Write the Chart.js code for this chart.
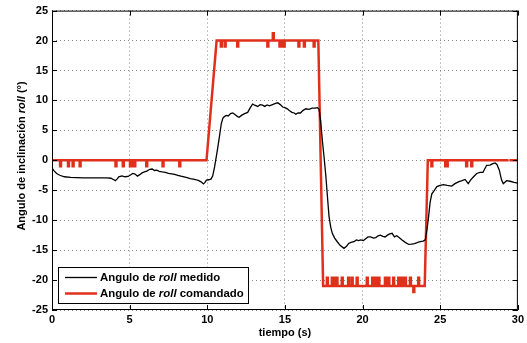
<!DOCTYPE html>
<html>
<head>
<meta charset="utf-8">
<script src="https://cdn.jsdelivr.net/npm/chart.js@4"></script>
<style>
    html, body { margin: 0; padding: 0; background: #fff; }
    canvas { display: block; }
</style>
</head>
<body>
<canvas id="rollChart" width="527" height="343"></canvas>
<script>
// ===========================
// DATOS
// ===========================

// Angulo de roll medido (tiempo en s, grados)
const measT = [
    0, 0.15, 0.3, 0.5, 0.8, 1.2, 1.6, 2.0, 2.5, 3.0, 3.5, 3.8, 3.95, 4.08, 4.2, 4.3, 4.5, 4.7, 4.9,
    5.05, 5.2, 5.35, 5.5, 5.65, 5.8, 5.95, 6.1, 6.3, 6.45, 6.6, 6.75, 6.9, 7.1, 7.3, 7.5, 7.7, 7.9,
    8.1, 8.3, 8.5, 8.7, 8.9, 9.1, 9.3, 9.45, 9.6, 9.75, 9.85, 9.95, 10.1, 10.25, 10.35, 10.47, 10.58,
    10.68, 10.8, 10.9, 11.0, 11.1, 11.22, 11.35, 11.5, 11.64, 11.8, 11.95, 12.05, 12.2, 12.4, 12.6,
    12.75, 12.92, 13.05, 13.25, 13.4, 13.56, 13.7, 13.85, 14.0, 14.2, 14.4, 14.53, 14.7, 14.85, 15.0,
    15.15, 15.28, 15.45, 15.6, 15.7, 15.85, 16.0, 16.15, 16.35, 16.55, 16.75, 16.95, 17.09, 17.2,
    17.3, 17.41, 17.52, 17.63, 17.75, 17.84, 17.95, 18.05, 18.2, 18.37, 18.55, 18.8, 18.95, 19.1,
    19.25, 19.44, 19.6, 19.75, 19.87, 20.05, 20.2, 20.35, 20.51, 20.7, 20.85, 21.0, 21.15, 21.3,
    21.45, 21.6, 21.75, 21.9, 22.05, 22.2, 22.35, 22.54, 22.75, 22.97, 23.15, 23.35, 23.55, 23.72,
    23.9, 24.04, 24.15, 24.25, 24.35, 24.46, 24.6, 24.78, 25.0, 25.21, 25.45, 25.74, 25.95, 26.17,
    26.4, 26.6, 26.8, 26.95, 27.13, 27.35, 27.55, 27.75, 27.99, 28.2, 28.35, 28.53, 28.65, 28.8,
    28.95, 29.06, 29.27, 29.5, 29.75, 30
];
const measV = [
    -1.3, -1.8, -2.2, -2.5, -2.75, -2.85, -2.9, -2.95, -2.95, -2.95, -2.95, -3.0, -3.2, -3.4, -3.1, -2.75, -2.6, -2.75, -2.7,
    -2.45, -2.2, -2.3, -2.65, -2.4, -2.1, -1.95, -1.8, -1.5, -1.45, -1.7, -1.65, -1.85, -1.95, -2.0, -2.2, -2.25, -2.35,
    -2.5, -2.65, -2.75, -2.9, -3.05, -3.15, -3.25, -3.4, -3.6, -3.95, -3.7, -3.3, -3.25, -3.1, -2.6, -1.1, 0.6,
    2.2, 4.3, 6.1, 7.0, 7.3, 7.5, 7.4, 7.8, 7.9, 7.6, 7.3, 7.2, 7.5, 7.8, 8.0,
    8.7, 9.4, 9.2, 9.0, 9.3, 9.2, 9.0, 9.25, 9.1, 9.3, 9.5, 9.6, 9.3, 8.9, 8.8,
    8.6, 8.3, 8.0, 7.9, 7.7, 7.9, 7.9, 8.3, 8.6, 8.5, 8.7, 8.7, 8.8, 8.5,
    6.5, 3.3, 0.5, -2.5, -6.5, -9.4, -11.2, -12.2, -13.0, -13.6, -14.2, -14.7, -14.4, -13.9,
    -13.7, -13.6, -13.3, -13.4, -13.3, -13.4, -13.1, -12.8, -12.8, -13.0, -12.9, -12.6, -12.5, -12.7,
    -12.8, -12.5, -12.3, -12.2, -12.8, -12.6, -12.9, -13.3, -13.7, -14.05, -14.0, -13.9, -13.7, -13.6,
    -13.5, -13.3, -11.5, -9.4, -7.0, -5.6, -5.1, -4.4, -4.2, -4.06, -4.2, -4.3, -3.9, -3.6,
    -3.4, -3.2, -3.9, -3.3, -2.8, -2.2, -2.0, -2.0, -0.83, -0.8, -0.6, -0.44, -0.7, -1.6,
    -3.3, -3.9, -3.4, -3.5, -3.7, -3.8
];

// Angulo de roll comandado: escalones
const cmdT = [0, 9.95, 10.6, 17.15, 17.46, 24.0, 24.2, 30];
const cmdV = [0, 0, 20, 20, -21, -21, 0, 0];

// Picos del comando (instante, valor del pico)
const spikeT = [
    0.55, 1.06, 1.36, 1.81, 4.12, 4.59, 5.05, 5.15, 5.25, 5.33, 6.1, 7.15, 8.23,
    10.9, 11.15, 11.96, 13.9, 14.25, 14.68, 14.78, 14.88, 14.95, 15.9, 16.25, 16.88,
    17.73, 18.05, 18.15, 18.25, 18.35, 18.69, 19.1, 19.33, 19.65, 20.3, 20.65, 20.75, 20.85,
    21.05, 21.47, 21.69, 22.0, 22.33, 22.55, 22.65, 22.76, 23.08, 23.3, 23.61,
    24.46, 25.35, 25.45, 26.7, 27.03, 29.42
];
const spikeV = [
    -1, -1, -1, -1, -1, -1, -1, -1, -1, -1, -1, -1, -1,
    19, 19, 19, 19, 21.2, 19, 19, 19, 19, 19, 19, 19,
    -19.6, -19.6, -19.6, -19.6, -19.6, -19.6, -19.6, -19.6, -19.6, -19.6, -19.6, -19.6, -19.6,
    -19.6, -19.6, -19.6, -19.6, -19.6, -19.6, -19.6, -19.6, -19.6, -22, -19.6,
    -1, -1, -1, -1, -1
];

const xTicks = [0, 5, 10, 15, 20, 25, 30];
const yTicks = [-25, -20, -15, -10, -5, 0, 5, 10, 15, 20, 25];

// ===========================
// CONSTRUCCIÓN DE SERIES
// ===========================
function baseAt(t) {
    for (let i = 0; i < cmdT.length - 1; i++) {
        if (t >= cmdT[i] && t <= cmdT[i + 1]) {
            const f = (t - cmdT[i]) / (cmdT[i + 1] - cmdT[i]);
            return cmdV[i] + f * (cmdV[i + 1] - cmdV[i]);
        }
    }
    return cmdV[cmdV.length - 1];
}

const measPoints = measT.map((t, i) => ({ x: t, y: measV[i] }));

const halfW = 0.03;
let cmdPoints = cmdT.map((t, i) => ({ x: t, y: cmdV[i] }));
spikeT.forEach((t, i) => {
    const b = baseAt(t);
    cmdPoints.push({ x: t - halfW, y: b }, { x: t - halfW, y: spikeV[i] },
                   { x: t + halfW, y: spikeV[i] }, { x: t + halfW, y: b });
});
cmdPoints.sort((a, b) => a.x - b.x);

const RED = '#e0301c';
const FONT = '"Liberation Sans", Arial, Helvetica, sans-serif';

// ===========================
// PLUGIN: CAJA, MARCAS, TÍTULOS Y LEYENDA
// ===========================
function drawMixed(ctx, parts, x, y, size) {
    let cx = x;
    parts.forEach(([txt, italic]) => {
        ctx.font = (italic ? 'italic ' : '') + 'bold ' + size + 'px ' + FONT;
        ctx.fillText(txt, cx, y);
        cx += ctx.measureText(txt).width;
    });
}
function mixedWidth(ctx, parts, size) {
    let w = 0;
    parts.forEach(([txt, italic]) => {
        ctx.font = (italic ? 'italic ' : '') + 'bold ' + size + 'px ' + FONT;
        w += ctx.measureText(txt).width;
    });
    return w;
}

const framePlugin = {
    id: 'frame',
    afterDraw(chart) {
        const ctx = chart.ctx;
        const a = chart.chartArea;
        const sx = chart.scales.x;
        const sy = chart.scales.y;
        ctx.save();
        ctx.strokeStyle = '#000';
        ctx.lineWidth = 1;
        ctx.setLineDash([]);
        ctx.strokeRect(a.left + 0.5, a.top + 0.5, a.width - 1, a.height - 1);

        // marcas hacia dentro
        ctx.beginPath();
        xTicks.forEach(v => {
            const px = Math.round(sx.getPixelForValue(v)) + 0.5;
            ctx.moveTo(px, a.bottom); ctx.lineTo(px, a.bottom - 5);
            ctx.moveTo(px, a.top); ctx.lineTo(px, a.top + 5);
        });
        yTicks.forEach(v => {
            const py = Math.round(sy.getPixelForValue(v)) + 0.5;
            ctx.moveTo(a.left, py); ctx.lineTo(a.left + 5, py);
            ctx.moveTo(a.right, py); ctx.lineTo(a.right - 5, py);
        });
        ctx.stroke();

        ctx.fillStyle = '#000';
        ctx.textBaseline = 'middle';

        // título eje x
        ctx.font = 'bold 11px ' + FONT;
        ctx.textAlign = 'center';
        ctx.fillText('tiempo (s)', (a.left + a.right) / 2, 333);

        // título eje y
        ctx.textAlign = 'left';
        const yParts = [['Angulo de inclinación ', false], ['roll', true], [' (°)', false]];
        ctx.save();
        ctx.translate(22, 156);
        ctx.rotate(-Math.PI / 2);
        drawMixed(ctx, yParts, -mixedWidth(ctx, yParts, 11) / 2, 0, 11);
        ctx.restore();

        // leyenda
        ctx.fillStyle = '#fff';
        ctx.fillRect(58.5, 267.5, 190, 36);
        ctx.strokeStyle = '#000';
        ctx.lineWidth = 1;
        ctx.strokeRect(58.5, 267.5, 190, 36);

        ctx.beginPath();
        ctx.strokeStyle = '#000';
        ctx.lineWidth = 1.3;
        ctx.moveTo(65, 277.5); ctx.lineTo(97, 277.5);
        ctx.stroke();
        ctx.beginPath();
        ctx.strokeStyle = RED;
        ctx.lineWidth = 2.5;
        ctx.moveTo(65, 293.5); ctx.lineTo(97, 293.5);
        ctx.stroke();

        ctx.fillStyle = '#000';
        drawMixed(ctx, [['Angulo de ', false], ['roll', true], [' medido', false]], 100, 278, 11.4);
        drawMixed(ctx, [['Angulo de ', false], ['roll', true], [' comandado', false]], 100, 294, 11.4);
        ctx.restore();
    }
};

// ===========================
// GRÁFICO
// ===========================
const ctx = document.getElementById('rollChart');

new Chart(ctx, {
    type: 'line',
    data: {
        datasets: [{
            label: 'Angulo de roll medido',
            data: measPoints,
            borderColor: '#000',
            borderWidth: 1.3,
            pointRadius: 0,
            tension: 0
        }, {
            label: 'Angulo de roll comandado',
            data: cmdPoints,
            borderColor: RED,
            borderWidth: 2.5,
            pointRadius: 0,
            tension: 0
        }]
    },
    options: {
        responsive: false,
        animation: false,
        devicePixelRatio: 1,
        layout: {
            padding: { top: 10, right: 7, left: 0, bottom: 0 }
        },
        plugins: {
            legend: { display: false },
            tooltip: { enabled: false }
        },
        scales: {
            x: {
                type: 'linear',
                min: 0,
                max: 30,
                afterFit: s => { s.height = 33; },
                afterBuildTicks: s => { s.ticks = xTicks.map(v => ({ value: v })); },
                ticks: {
                    color: '#000',
                    padding: 3,
                    maxRotation: 0,
                    font: { family: FONT, size: 11, weight: 'bold' }
                },
                grid: {
                    color: '#8a8a8a',
                    drawTicks: false
                },
                border: { display: false, dash: [1, 3] }
            },
            y: {
                type: 'linear',
                min: -25,
                max: 25,
                afterFit: s => { s.width = 52; },
                afterBuildTicks: s => { s.ticks = yTicks.map(v => ({ value: v })); },
                ticks: {
                    color: '#000',
                    padding: 4,
                    font: { family: FONT, size: 11, weight: 'bold' }
                },
                grid: {
                    color: '#8a8a8a',
                    drawTicks: false
                },
                border: { display: false, dash: [1, 3] }
            }
        }
    },
    plugins: [framePlugin]
});
</script>
</body>
</html>
